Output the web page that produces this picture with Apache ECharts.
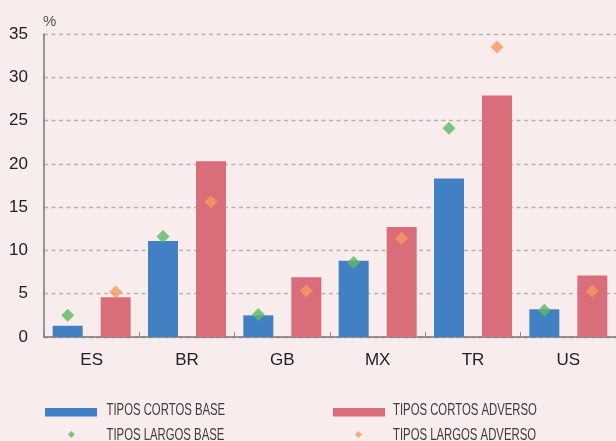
<!DOCTYPE html>
<html><head><meta charset="utf-8">
<script src="https://cdn.jsdelivr.net/npm/echarts@6/dist/echarts.min.js"></script>
<style>html,body{margin:0;padding:0;background:#f8ecec}#c{width:616px;height:441px}</style>
</head><body><div id="c"></div>
<script>
const categories = ['ES','BR','GB','MX','TR','US'];
const cortosBase = [1.3, 11.1, 2.5, 8.8, 18.3, 3.2];
const cortosAdverso = [4.6, 20.3, 6.9, 12.7, 27.9, 7.1];
const largosBase = [2.5, 11.6, 2.6, 8.6, 24.1, 3.1];
const largosAdverso = [5.2, 15.6, 5.3, 11.4, 33.5, 5.3];
const seriesNames = ['TIPOS CORTOS BASE','TIPOS CORTOS ADVERSO','TIPOS LARGOS BASE','TIPOS LARGOS ADVERSO'];

const chart = echarts.init(document.getElementById('c'), null, {renderer:'canvas'});
const legendFont = {fontFamily:'Liberation Sans, Arial, sans-serif', fontSize:17, fill:'#3c3c3c', verticalAlign:'middle'};
function legendLabel(text, x, y){
  return {type:'text', x:x, y:y, scaleX:0.667, silent:true, style:Object.assign({text:text}, legendFont)};
}
function legendBox(name, left, top, icon, w, h){
  return {left:left, top:top, padding:0, itemWidth:w, itemHeight:h, icon:icon, data:[name], selectedMode:false,
    formatter:function(){return '';}, textStyle:{fontSize:1}};
}
chart.setOption({
  backgroundColor:'#f8ecec',
  animation:false,
  grid:{left:44, right:0, top:34, bottom:104},
  graphic:[
    {type:'text', left:43, top:14, style:{text:'%', fontFamily:'Liberation Sans, Arial, sans-serif', fontSize:15, fill:'#555'}},
    legendLabel(seriesNames[0], 106.5, 410.5),
    legendLabel(seriesNames[1], 393, 410.5),
    legendLabel(seriesNames[2], 106.5, 435.5),
    legendLabel(seriesNames[3], 393, 435.5)
  ],
  legend:[
    legendBox(seriesNames[0], 45, 408, 'rect', 52, 8.5),
    legendBox(seriesNames[1], 333, 408, 'rect', 52, 8.5),
    legendBox(seriesNames[2], 67.8, 431, 'diamond', 7, 7),
    legendBox(seriesNames[3], 355, 431, 'diamond', 7, 7)
  ],
  xAxis:{type:'category', data:categories,
    axisLine:{lineStyle:{color:'#777', width:1.5}},
    axisTick:{show:true, inside:true, length:5, lineStyle:{color:'#888'}},
    axisLabel:{fontFamily:'Liberation Sans, Arial, sans-serif', fontSize:17, color:'#222', margin:15}},
  yAxis:{type:'value', min:0, max:35, interval:5,
    axisLine:{show:true, lineStyle:{color:'#777', width:1.5}},
    axisTick:{show:false},
    splitLine:{lineStyle:{color:'#b3b3b3', type:[4,3.5], width:1.3}},
    axisLabel:{fontFamily:'Liberation Sans, Arial, sans-serif', fontSize:17, color:'#222', margin:16}},
  series:[
    {name:seriesNames[0], type:'bar', data:cortosBase, barWidth:30, barGap:'60%', itemStyle:{color:'#4180c3'}},
    {name:seriesNames[1], type:'bar', data:cortosAdverso, barWidth:30, barGap:'60%', itemStyle:{color:'#d96d7a'}},
    {name:seriesNames[2], type:'scatter', data:largosBase, symbol:'diamond', symbolSize:13, symbolOffset:[-24,0], itemStyle:{color:'#5cb963'}, z:5},
    {name:seriesNames[3], type:'scatter', data:largosAdverso, symbol:'diamond', symbolSize:13, symbolOffset:[24,0], itemStyle:{color:'#f6995d'}, z:5}
  ]
});
</script></body></html>
